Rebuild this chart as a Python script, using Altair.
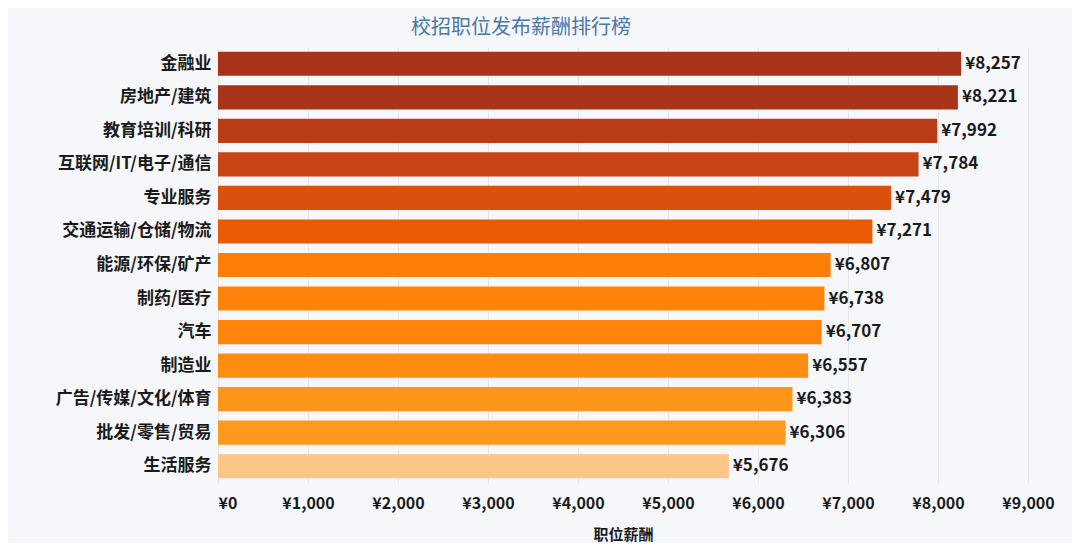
import altair as alt
import pandas as pd

industries = ["金融业", "房地产/建筑", "教育培训/科研", "互联网/IT/电子/通信", "专业服务",
              "交通运输/仓储/物流", "能源/环保/矿产", "制药/医疗", "汽车", "制造业",
              "广告/传媒/文化/体育", "批发/零售/贸易", "生活服务"]
salaries = [8257, 8221, 7992, 7784, 7479, 7271, 6807, 6738, 6707, 6557, 6383, 6306, 5676]
x_ticks = [0, 1000, 2000, 3000, 4000, 5000, 6000, 7000, 8000, 9000]

df = pd.DataFrame({"行业": industries, "职位薪酬": salaries})
df["标签"] = ["¥" + format(v, ",") for v in salaries]

FONT = "Noto Sans CJK SC"

y_enc = alt.Y("行业:N", sort=industries, title=None,
              scale=alt.Scale(paddingInner=0.28, paddingOuter=0.14),
              axis=alt.Axis(domain=False, ticks=False, grid=False, labelFontSize=17,
                            labelFontWeight="bold", labelColor="#1a1a1a", labelFont=FONT,
                            labelPadding=7))

x_enc = alt.X("职位薪酬:Q", title="职位薪酬",
              scale=alt.Scale(domain=[0, 9000], nice=False),
              axis=alt.Axis(values=x_ticks, domain=False, ticks=False, grid=True,
                            gridColor="#e3e6eb", labelFontSize=16, labelFontWeight="bold",
                            labelColor="#1a1a1a", labelFont=FONT, labelPadding=12,
                            labelFlush=False,
                            labelAlign=alt.ExprRef("datum.value == 0 ? 'left' : 'center'"),
                            labelExpr="'¥' + format(datum.value, ',')",
                            titleFont=FONT, titleFontSize=15, titleFontWeight="bold",
                            titleColor="#1a1a1a", titlePadding=16))

bars = alt.Chart(df).mark_bar().encode(
    y=y_enc,
    x=x_enc,
    color=alt.Color("职位薪酬:Q", legend=None,
                    scale=alt.Scale(domain=[5676, 6300, 6800, 7300, 8257],
                                    range=["#fdc586", "#ff9a1f", "#ff7f07", "#e85805", "#a83318"])),
)

labels = alt.Chart(df).mark_text(align="left", baseline="middle", dx=4, fontSize=17,
                                 fontWeight="bold", font=FONT, color="#1a1a1a").encode(
    y=alt.Y("行业:N", sort=industries),
    x=alt.X("职位薪酬:Q"),
    text="标签:N",
)

chart = (bars + labels).properties(
    width=810, height=436,
    autosize=alt.AutoSizeParams(type="none"),
    padding={"left": 210, "top": 39, "right": 44, "bottom": 60},
    background="#f5f7fa",
    title=alt.TitleParams("校招职位发布薪酬排行榜", font=FONT, fontSize=20, fontWeight="normal",
                          color="#4a78a8", anchor="middle", dx=-102, offset=9),
).configure_view(stroke=None)

chart.save("out.html", embed_options={"renderer": "svg", "actions": False})
